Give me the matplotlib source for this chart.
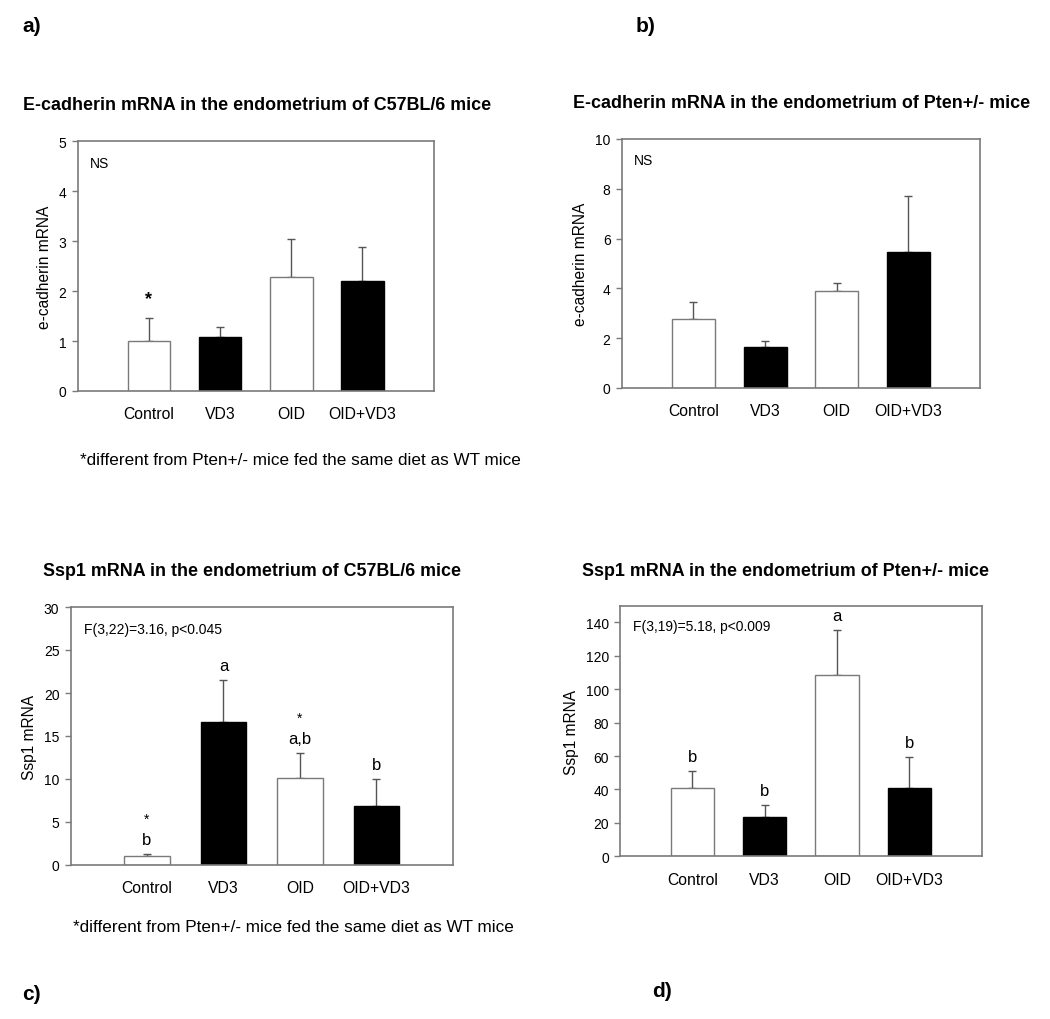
import matplotlib
matplotlib.use('Agg')
import matplotlib.pyplot as plt

plt.rcParams['font.family'] = ['Liberation Sans', 'DejaVu Sans']

categories = ['Control', 'VD3', 'OID', 'OID+VD3']
bar_colors = ['white', 'black', 'white', 'black']

ecad_wt = [1.0, 1.09, 2.28, 2.20]
ecad_wt_err = [0.46, 0.19, 0.77, 0.68]
ecad_pten = [2.78, 1.63, 3.90, 5.45]
ecad_pten_err = [0.69, 0.27, 0.30, 2.27]
ssp1_wt = [1.02, 16.6, 10.1, 6.9]
ssp1_wt_err = [0.27, 4.9, 2.95, 3.1]
ssp1_pten = [41.1, 23.7, 108.7, 41.1]
ssp1_pten_err = [10.0, 7.2, 26.7, 18.5]

ssp1_wt_letters = ['b', 'a', 'a,b', 'b']
ssp1_pten_letters = ['b', 'b', 'a', 'b']
ecad_wt_stars = ['*', '', '', '']
ssp1_wt_stars = ['*', '', '*', '']

W, H = 1050, 1020
fig = plt.figure(figsize=(W / 100, H / 100), dpi=100)

GRAY = '#7a7a7a'


def add_ax(x0, y0, x1, y1):
    return fig.add_axes([x0 / W, 1 - y1 / H, (x1 - x0) / W, (y1 - y0) / H])


def draw(ax, vals, errs, ymax, yticks, ylabel, note, note_y=0.915):
    x = list(range(1, len(categories) + 1))
    ax.bar(x, vals, width=0.6, color=bar_colors,
           edgecolor=[GRAY if c == 'white' else 'black' for c in bar_colors],
           linewidth=1.0, zorder=2)
    ax.errorbar(x, vals, yerr=[[0] * len(errs), errs], fmt='none',
                ecolor='#555555', elinewidth=1.0, capsize=3.2, capthick=1.0, zorder=1)
    ax.set_xlim(0, 5)
    ax.set_ylim(0, ymax)
    ax.set_yticks(yticks)
    ax.set_xticks(x)
    ax.set_xticklabels(categories, fontsize=11.3)
    for s in ax.spines.values():
        s.set_color(GRAY)
        s.set_linewidth(1.2)
    ax.tick_params(axis='y', direction='out', length=4, width=1.0, color=GRAY,
                   labelsize=10, pad=4)
    ax.tick_params(axis='x', length=0, pad=11)
    ax.set_ylabel(ylabel, fontsize=11.2, labelpad=5)
    ax.text(0.035, note_y, note, transform=ax.transAxes, fontsize=10,
            ha='left', va='center')
    return x


# Panel a
ax_a = add_ax(77.7, 142.3, 433.5, 392)
xa = draw(ax_a, ecad_wt, ecad_wt_err, 5, [0, 1, 2, 3, 4, 5], 'e-cadherin mRNA', 'NS')
for xi, v, e, s in zip(xa, ecad_wt, ecad_wt_err, ecad_wt_stars):
    if s:
        ax_a.annotate(s, (xi, v + e), xytext=(0, 8), textcoords='offset points',
                      ha='center', va='bottom', fontsize=13, fontweight='bold')

# Panel b
ax_b = add_ax(621.7, 140, 980, 389)
draw(ax_b, ecad_pten, ecad_pten_err, 10, [0, 2, 4, 6, 8, 10], 'e-cadherin mRNA', 'NS')

# Panel c
ax_c = add_ax(70.5, 608, 453, 866)
xc = draw(ax_c, ssp1_wt, ssp1_wt_err, 30, [0, 5, 10, 15, 20, 25, 30], 'Ssp1 mRNA',
          'F(3,22)=3.16, p<0.045')
for xi, v, e, l, s in zip(xc, ssp1_wt, ssp1_wt_err, ssp1_wt_letters, ssp1_wt_stars):
    ax_c.annotate(l, (xi, v + e), xytext=(0, 10.5), textcoords='offset points',
                  ha='center', va='center', fontsize=12)
    if s:
        ax_c.annotate(s, (xi, v + e), xytext=(0, 25), textcoords='offset points',
                      ha='center', va='center', fontsize=10)

# Panel d
ax_d = add_ax(620, 606.7, 981.7, 857.3)
xd = draw(ax_d, ssp1_pten, ssp1_pten_err, 150, [0, 20, 40, 60, 80, 100, 120, 140],
          'Ssp1 mRNA', 'F(3,19)=5.18, p<0.009', note_y=0.92)
for xi, v, e, l in zip(xd, ssp1_pten, ssp1_pten_err, ssp1_pten_letters):
    ax_d.annotate(l, (xi, v + e), xytext=(0, 10.5), textcoords='offset points',
                  ha='center', va='center', fontsize=12)

# Titles
TS = 12.9
fig.text(23 / W, 1 - 105 / H, 'E-cadherin mRNA in the endometrium of C57BL/6 mice',
         fontsize=TS, fontweight='bold', va='center', ha='left')
fig.text(573 / W, 1 - 103 / H, 'E-cadherin mRNA in the endometrium of Pten+/- mice',
         fontsize=TS, fontweight='bold', va='center', ha='left')
fig.text(43 / W, 1 - 572 / H, 'Ssp1 mRNA in the endometrium of C57BL/6 mice',
         fontsize=TS, fontweight='bold', va='center', ha='left')
fig.text(582 / W, 1 - 572 / H, 'Ssp1 mRNA in the endometrium of Pten+/- mice',
         fontsize=TS, fontweight='bold', va='center', ha='left')

# Footnotes
fig.text(80 / W, 1 - 461 / H, '*different from Pten+/- mice fed the same diet as WT mice',
         fontsize=12.3, va='center', ha='left')
fig.text(73 / W, 1 - 928 / H, '*different from Pten+/- mice fed the same diet as WT mice',
         fontsize=12.3, va='center', ha='left')

# Panel labels
for lbl, px, py in [('a)', 22, 27), ('b)', 636, 27), ('c)', 22, 995), ('d)', 652, 992)]:
    fig.text(px / W, 1 - py / H, lbl, fontsize=15, fontweight='bold', va='center', ha='left')

fig.savefig('out.png', dpi=100, facecolor='white')
